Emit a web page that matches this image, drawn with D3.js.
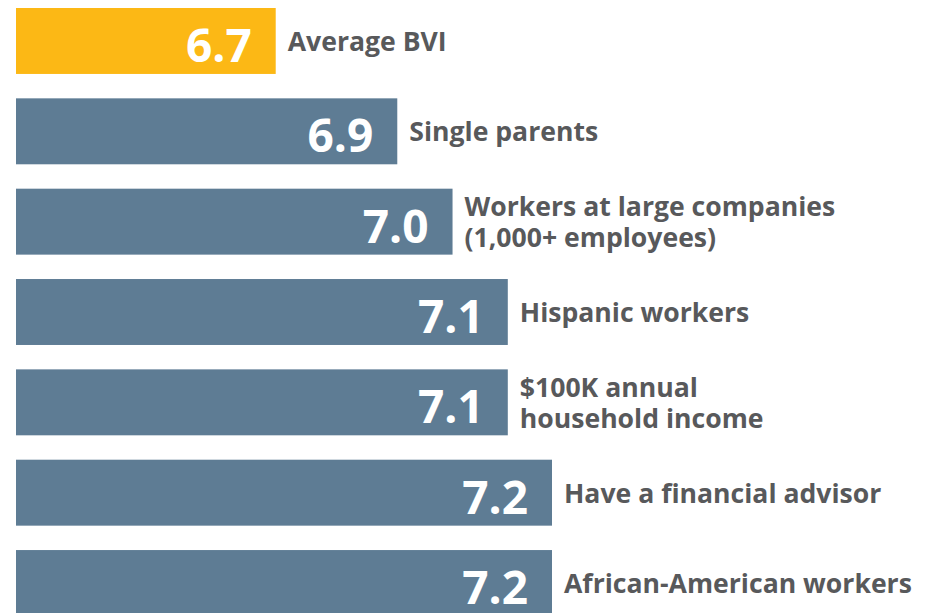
<!DOCTYPE html>
<html>
<head>
<meta charset="utf-8">
<script src="https://cdn.jsdelivr.net/npm/d3@7"></script>
<style>
  body { margin: 0; background: #fff; }
  svg { display: block; }
  text { font-family: "Open Sans", sans-serif; font-weight: 700; }
</style>
</head>
<body>
<svg id="chart"></svg>
<script>
// data; bar lengths suggest values slightly above the rounded label
const categories = ["avg", "single", "large", "hispanic", "income", "advisor", "african"]
const labels = [
  ["Average BVI"],
  ["Single parents"],
  ["Workers at large companies", "(1,000+ employees)"],
  ["Hispanic workers"],
  ["$100K annual", "household income"],
  ["Have a financial advisor"],
  ["African-American workers"]
]
const values = [6.70, 6.92, 7.02, 7.12, 7.12, 7.20, 7.20]

const width = 937
const height = 613

const svg = d3.select("#chart").attr("width", width).attr("height", height)

const x = d3.scaleLinear().domain([6.23, 7.2]).range([16, 552])
const y = d3.scaleBand().domain(categories).range([8, 616]).paddingInner(0.27).paddingOuter(0)

const data = categories.map((c, i) => ({ key: c, value: values[i], lines: labels[i], i }))

const row = svg.selectAll("g.row")
  .data(data).enter().append("g")
  .attr("class", "row")
  .attr("transform", d => `translate(0, ${y(d.key)})`)

row.append("rect")
  .attr("x", x.range()[0])
  .attr("width", d => x(d.value) - x.range()[0])
  .attr("height", y.bandwidth())
  .attr("fill", d => d.i === 0 ? "#FCB815" : "#5E7C94")

const mid = y.bandwidth() / 2

row.append("text")
  .attr("x", d => x(d.value) - 24)
  .attr("y", mid + 21)
  .attr("text-anchor", "end")
  .attr("font-size", 46)
  .attr("fill", "#fff")
  .text(d => d.value.toFixed(1))

// category labels, multi-line ones centred on the bar
const lineH = 31
row.append("text")
  .attr("x", d => x(d.value) + 12)
  .attr("font-size", 26.6)
  .attr("fill", "#58595B")
  .selectAll("tspan")
  .data(d => d.lines.map((l, j) => ({ l, j, n: d.lines.length, x: x(d.value) + 12 })))
  .enter().append("tspan")
  .attr("x", t => t.x)
  .attr("y", t => mid + 10 - (t.n - 1) * lineH / 2 + t.j * lineH)
  .text(t => t.l)
</script>
</body>
</html>
